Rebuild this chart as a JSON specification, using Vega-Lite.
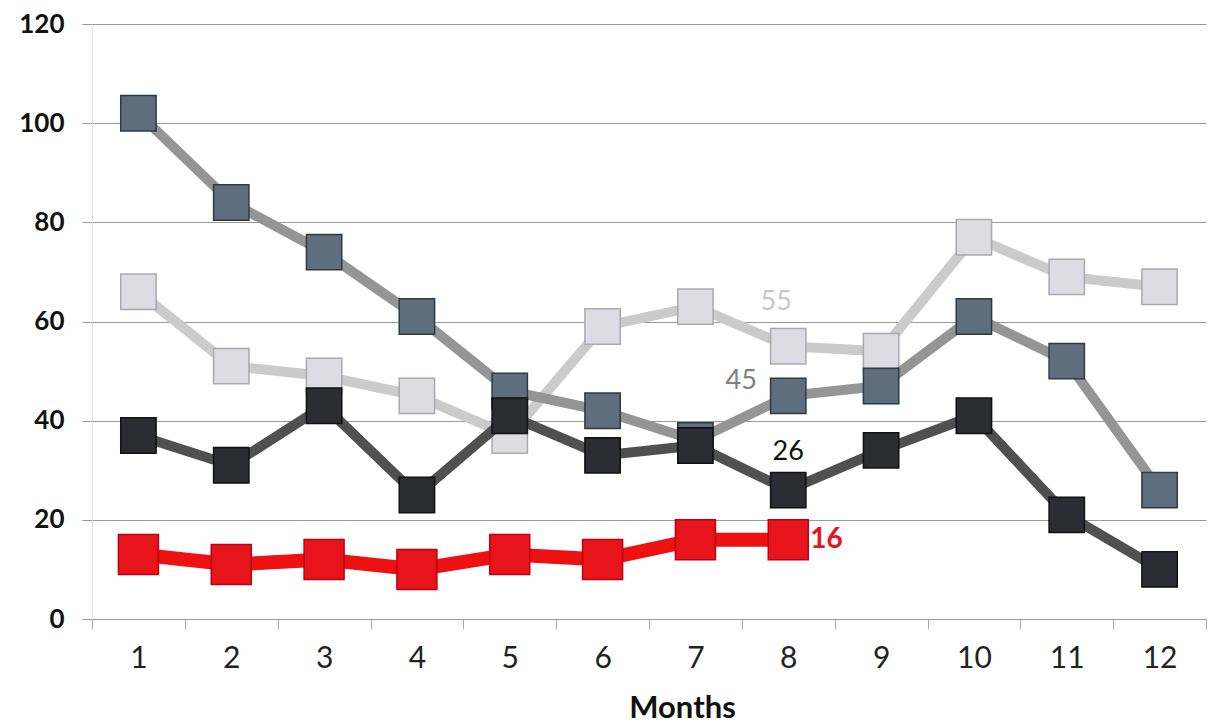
{
  "$schema": "https://vega.github.io/schema/vega-lite/v6.json",
  "width": 1114,
  "height": 595,
  "autosize": "none",
  "padding": {"left": 92, "top": 24, "right": 3, "bottom": 106},
  "background": "white",
  "config": {
    "view": {"stroke": null},
    "font": "Lato"
  },
  "data": {
    "values": [
      {"series": "A", "month": 1, "value": 102},
      {"series": "A", "month": 2, "value": 84},
      {"series": "A", "month": 3, "value": 74},
      {"series": "A", "month": 4, "value": 61},
      {"series": "A", "month": 5, "value": 46},
      {"series": "A", "month": 6, "value": 42},
      {"series": "A", "month": 7, "value": 36},
      {"series": "A", "month": 8, "value": 45, "label": "45"},
      {"series": "A", "month": 9, "value": 47},
      {"series": "A", "month": 10, "value": 61},
      {"series": "A", "month": 11, "value": 52},
      {"series": "A", "month": 12, "value": 26},
      {"series": "B", "month": 1, "value": 66},
      {"series": "B", "month": 2, "value": 51},
      {"series": "B", "month": 3, "value": 49},
      {"series": "B", "month": 4, "value": 45},
      {"series": "B", "month": 5, "value": 37},
      {"series": "B", "month": 6, "value": 59},
      {"series": "B", "month": 7, "value": 63},
      {"series": "B", "month": 8, "value": 55, "label": "55"},
      {"series": "B", "month": 9, "value": 54},
      {"series": "B", "month": 10, "value": 77},
      {"series": "B", "month": 11, "value": 69},
      {"series": "B", "month": 12, "value": 67},
      {"series": "C", "month": 1, "value": 37},
      {"series": "C", "month": 2, "value": 31},
      {"series": "C", "month": 3, "value": 43},
      {"series": "C", "month": 4, "value": 25},
      {"series": "C", "month": 5, "value": 41},
      {"series": "C", "month": 6, "value": 33},
      {"series": "C", "month": 7, "value": 35},
      {"series": "C", "month": 8, "value": 26, "label": "26"},
      {"series": "C", "month": 9, "value": 34},
      {"series": "C", "month": 10, "value": 41},
      {"series": "C", "month": 11, "value": 21},
      {"series": "C", "month": 12, "value": 10},
      {"series": "D", "month": 1, "value": 13},
      {"series": "D", "month": 2, "value": 11},
      {"series": "D", "month": 3, "value": 12},
      {"series": "D", "month": 4, "value": 10},
      {"series": "D", "month": 5, "value": 13},
      {"series": "D", "month": 6, "value": 12},
      {"series": "D", "month": 7, "value": 16},
      {"series": "D", "month": 8, "value": 16, "label": "16"}
    ]
  },
  "encoding": {
    "x": {
      "field": "month",
      "type": "ordinal",
      "bandPosition": 0.5,
      "scale": {"type": "band", "paddingInner": 0, "paddingOuter": 0, "domain": [1,2,3,4,5,6,7,8,9,10,11,12]},
      "axis": {
        "title": "Months",
        "titleFont": "Lato",
        "titleFontSize": 31,
        "titleFontWeight": "bold",
        "titleColor": "#111",
        "titleX": 590,
        "titlePadding": 20,
        "labelAngle": 0,
        "labelFont": "Lato",
        "labelFontSize": 30,
        "labelColor": "#222",
        "labelPadding": 14,
        "tickBand": "extent",
        "tickSize": 10,
        "tickColor": "#aaa",
        "domainColor": "#999",
        "grid": false
      }
    },
    "y": {
      "field": "value",
      "type": "quantitative",
      "scale": {"domain": [0, 120], "nice": false},
      "axis": {
        "title": null,
        "values": [0, 20, 40, 60, 80, 100, 120],
        "labelFont": "Lato",
        "labelFontSize": 26,
        "labelFontWeight": "bold",
        "labelColor": "#111",
        "labelPadding": 18,
        "tickSize": 10,
        "tickColor": "#999",
        "grid": true,
        "gridColor": "#999",
        "gridWidth": 1,
        "domainColor": "#e0e0e0"
      }
    }
  },
  "layer": [
    {"transform": [{"filter": "datum.series === 'B'"}], "mark": {"type": "line", "stroke": "#cbcbcb", "strokeWidth": 10}},
    {"transform": [{"filter": "datum.series === 'B'"}], "mark": {"type": "point", "shape": "square", "size": 1250, "filled": true, "fill": "#dcdce2", "stroke": "#a9a9b0", "strokeWidth": 1.5, "opacity": 1}},
    {"transform": [{"filter": "datum.series === 'A'"}], "mark": {"type": "line", "stroke": "#959595", "strokeWidth": 10}},
    {"transform": [{"filter": "datum.series === 'A'"}], "mark": {"type": "point", "shape": "square", "size": 1250, "filled": true, "fill": "#5f6e7c", "stroke": "#2e3a46", "strokeWidth": 1.5, "opacity": 1}},
    {"transform": [{"filter": "datum.series === 'C'"}], "mark": {"type": "line", "stroke": "#505050", "strokeWidth": 10}},
    {"transform": [{"filter": "datum.series === 'C'"}], "mark": {"type": "point", "shape": "square", "size": 1250, "filled": true, "fill": "#2c2c33", "stroke": "#111", "strokeWidth": 1.5, "opacity": 1}},
    {"transform": [{"filter": "datum.series === 'D'"}], "mark": {"type": "line", "stroke": "#ee1111", "strokeWidth": 14}},
    {"transform": [{"filter": "datum.series === 'D'"}], "mark": {"type": "point", "shape": "square", "size": 1600, "filled": true, "fill": "#e8141c", "stroke": "#c00010", "strokeWidth": 1.5, "opacity": 1}},
    {"transform": [{"filter": "datum.series === 'B' && isValid(datum.label)"}], "mark": {"type": "text", "font": "Lato", "fontSize": 27, "color": "#c8c8c8", "dx": -12, "dy": -44}, "encoding": {"text": {"field": "label"}}},
    {"transform": [{"filter": "datum.series === 'A' && isValid(datum.label)"}], "mark": {"type": "text", "font": "Lato", "fontSize": 27, "color": "#808080", "dx": -47, "dy": -15}, "encoding": {"text": {"field": "label"}}},
    {"transform": [{"filter": "datum.series === 'C' && isValid(datum.label)"}], "mark": {"type": "text", "font": "Lato", "fontSize": 27, "color": "#111", "dx": 0, "dy": -38}, "encoding": {"text": {"field": "label"}}},
    {"transform": [{"filter": "datum.series === 'D' && isValid(datum.label)"}], "mark": {"type": "text", "font": "Lato", "fontSize": 28, "fontWeight": "bold", "color": "#e8141c", "align": "left", "dx": 22, "dy": 0}, "encoding": {"text": {"field": "label"}}}
  ]
}
